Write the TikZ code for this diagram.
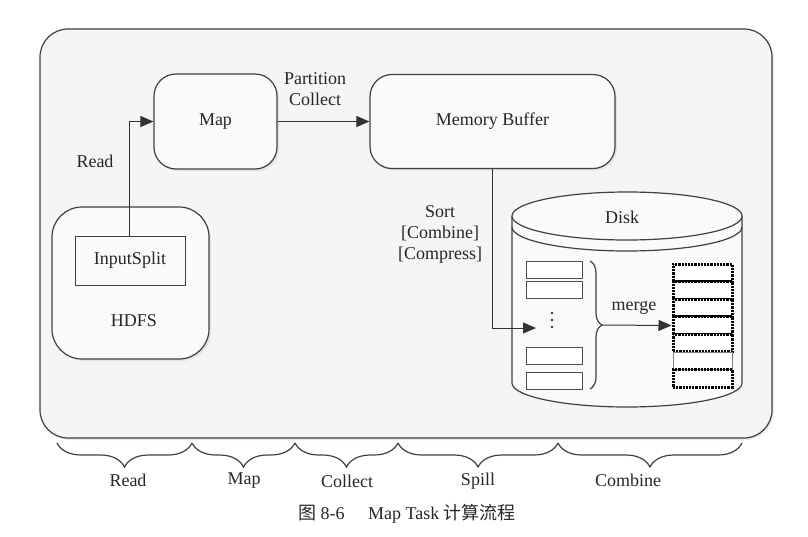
\documentclass[tikz,border=0pt]{standalone}
\usepackage{fontspec}
\setmainfont{Liberation Serif}
\newfontfamily\cjk{Noto Sans CJK SC}
\usetikzlibrary{arrows.meta,decorations.pathreplacing,shadows}

\begin{document}
\begin{tikzpicture}[x=0.5pt, y=-0.5pt, font=\fontsize{9}{10.5}\selectfont, text=black!85,
	rbox/.style={draw=black!75, line width=0.6pt, fill=black!2, rounded corners=11pt, inner sep=0pt,
		drop shadow={opacity=0.15, shadow xshift=1pt, shadow yshift=-1pt}},
	flow/.style={draw=black!80, line width=0.5pt, -{Triangle[length=6.5pt,width=5.5pt]}},
	spillbox/.style={draw=black!70, line width=0.5pt, fill=white, minimum width=28pt, minimum height=8.5pt, inner sep=0pt},
	stackbox/.style={draw=black, line width=1.5pt, dash pattern=on 1.1pt off 0.5pt, fill=white, minimum width=29.5pt, minimum height=8.8pt, inner sep=0pt},
	phase/.style={draw=black!75, line width=0.6pt, decorate, decoration={brace, mirror, amplitude=12pt}}]
			%%%%% START %%%%%
			\useasboundingbox (0, 0) rectangle (808, 536);
			
			\node[rbox, rounded corners=14pt, fill=black!4, minimum width=366pt, minimum height=204.5pt] (maptask) at (406, 233.5) {};
			
			\node[rbox, minimum width=61.5pt, minimum height=47.5pt] (map) at (215.5, 121.5) {Map};
			\node[rbox, minimum width=122.5pt, minimum height=47pt] (buffer) at (492.5, 121.5) {Memory Buffer};
			\node[rbox, rounded corners=15pt, minimum width=78.5pt, minimum height=76pt] (hdfs) at (130.5, 283) {};
			\node (hdfslbl) at (134, 321) {HDFS};
			\node[draw=black!75, line width=0.5pt, fill=black!2, minimum width=55pt, minimum height=24.5pt, inner sep=0pt] (split) at (130, 260.5) {InputSplit};
			
			\draw[flow] (split.north -| 129, 0) |- (map.west);
			\node (readlbl) at (95, 161) {Read};
			\draw[flow] (map) -- (buffer);
			\node[align=center] (partlbl) at (315, 89) {Partition\\Collect};
			
			% disk
			\draw[draw=black!75, line width=0.6pt, fill=black!2] (512, 216) -- (512, 383) arc[start angle=180, end angle=0, x radius=115, y radius=24] -- (742, 216);
			\draw[draw=black!75, line width=0.6pt, fill=black!2] (627, 216) ellipse [x radius=115, y radius=24];
			\draw[draw=black!75, line width=0.6pt] (512, 227) arc[start angle=180, end angle=0, x radius=115, y radius=24];
			\node (disklbl) at (622, 217) {Disk};
			
			\node[spillbox] (spill1) at (554, 269.5) {};
			\node[spillbox] (spill2) at (554, 289.5) {};
			\fill[black!80] (552, 313) circle (1.3) (552, 320) circle (1.3) (552, 327) circle (1.3);
			\node[spillbox] (spill3) at (554, 355.5) {};
			\node[spillbox] (spill4) at (554, 380.5) {};
			
			\coordinate (spilltip) at (536, 328);
			\draw[flow] (buffer.south) |- (spilltip);
			\node[align=center] (sortlbl) at (440, 234) {Sort\\{[Combine]}\\{[Compress]}};
			
			\draw[draw=black!75, line width=0.6pt, decorate, decoration={brace, amplitude=6pt}] (590, 261) -- (590, 389);
			\coordinate (bracetip) at (602, 325);
			
			\node[stackbox] (stack0) at (702.5, 272.8) {};
			\node[stackbox] (stack1) at (702.5, 290.4) {};
			\node[stackbox] (stack2) at (702.5, 308.0) {};
			\node[stackbox] (stack3) at (702.5, 325.5) {};
			\node[stackbox] (stack4) at (702.5, 343.1) {};
			\node[draw=black!50, line width=0.4pt, fill=white, minimum width=29.5pt, minimum height=8.8pt, inner sep=0pt] (stack5) at (702.5, 360.7) {};
			\node[stackbox] (stack6) at (702.5, 378.3) {};
			
			\draw[flow] (bracetip) -- (stack3.west);
			\node (mergelbl) at (634, 308) {merge};
			
			% phases
			\draw[phase] (57, 443) -- (192, 443);
			\draw[phase] (192, 443) -- (295, 443);
			\draw[phase] (295, 443) -- (398, 443);
			\draw[phase] (398, 443) -- (558, 443);
			\draw[phase] (558, 443) -- (742, 443);
			\node (p1) at (128, 480) {Read};
			\node (p2) at (244, 481) {Map};
			\node (p3) at (347, 481) {Collect};
			\node (p4) at (478, 481) {Spill};
			\node (p5) at (628, 480) {Combine};
			
			\node (caption) at (407, 514) {{\cjk 图} 8-6\hspace{1.3em}Map Task {\cjk 计算流程}};
			%%%%% END %%%%%
\end{tikzpicture}
\end{document}
